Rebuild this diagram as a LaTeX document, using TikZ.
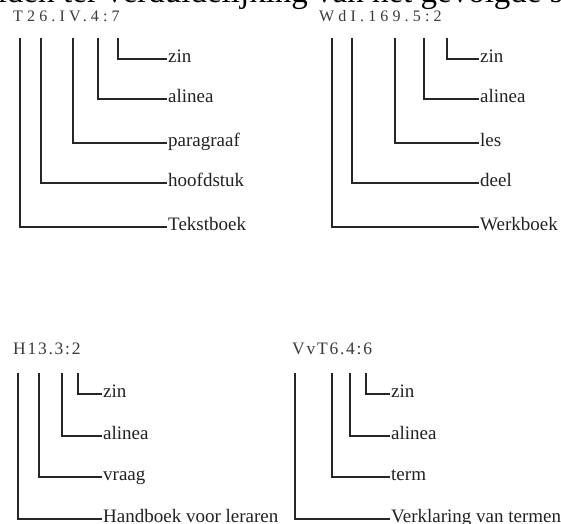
\documentclass[tikz,border=0pt]{standalone}
\usepackage{fontspec}
\setmainfont{Liberation Serif}
\newfontfamily\codeA[LetterSpace=26]{Liberation Serif}
\newfontfamily\codeB[LetterSpace=10]{Liberation Serif}
\definecolor{txt}{HTML}{222222}
\definecolor{codecol}{HTML}{3A3A3A}
\tikzset{
  lab/.style={anchor=west, inner xsep=1pt, inner ysep=0pt, text height=9pt, text depth=3pt,
    font=\fontsize{19}{21}\selectfont, text=txt},
  codeone/.style={anchor=west, inner sep=0pt, font=\codeA\fontsize{16}{18}\selectfont, text=codecol},
  codetwo/.style={anchor=west, inner sep=0pt, font=\codeB\fontsize{17.5}{19}\selectfont, text=codecol},
  conn/.style={line width=1.1pt, draw=black!85},
  head/.style={inner sep=0pt, font=\fontsize{33}{36}\selectfont, text=black}
}
\begin{document}
\begin{tikzpicture}[x=1pt,y=-1pt]
\useasboundingbox (0,0) rectangle (561,523);
\clip (0,0) rectangle (561,523);
\fill[white] (0,0) rectangle (561,523);
% clipped header line
\node[head, anchor=base west] (h2) at (63,2.5) {ter verduidelijking van het gevolgde systeem};
\node[head, anchor=base east] (h1) at ([xshift=-8.25pt]h2.base west) {Voorbeelden};
% panel 1
\node[codeone] (c1) at (13,16) {T26.IV.4:7};
\foreach \n/\x/\y/\t in {1/118/59/zin,2/98/99/alinea,3/73/143/paragraaf,4/41/183/hoofdstuk,5/20/227/Tekstboek}{
  \coordinate (a\n) at (\x,38);
  \node[lab] (al\n) at (167,\y) {\t};
  \draw[conn] (a\n) |- (al\n.west);
}
% panel 2
\node[codeone] (c2) at (319,16) {WdI.169.5:2};
\foreach \n/\x/\y/\t in {1/447/59/zin,2/424/99/alinea,3/395/143/les,4/352/183/deel,5/332/227/Werkboek}{
  \coordinate (b\n) at (\x,38);
  \node[lab] (bl\n) at (479,\y) {\t};
  \draw[conn] (b\n) |- (bl\n.west);
}
% panel 3
\node[codetwo] (c3) at (13,349) {H13.3:2};
\foreach \n/\x/\y/\t in {1/78/394/zin,2/62/436/alinea,3/39/477/vraag,4/18/519/Handboek voor leraren}{
  \coordinate (c\n) at (\x,373);
  \node[lab] (cl\n) at (102,\y) {\t};
  \draw[conn] (c\n) |- (cl\n.west);
}
% panel 4
\node[codetwo] (c4) at (292,349) {VvT6.4:6};
\foreach \n/\x/\y/\t in {1/366/394/zin,2/350/436/alinea,3/332/477/term,4/295/519/Verklaring van termen}{
  \coordinate (d\n) at (\x,373);
  \node[lab] (dl\n) at (390,\y) {\t};
  \draw[conn] (d\n) |- (dl\n.west);
}
\end{tikzpicture}
\end{document}
